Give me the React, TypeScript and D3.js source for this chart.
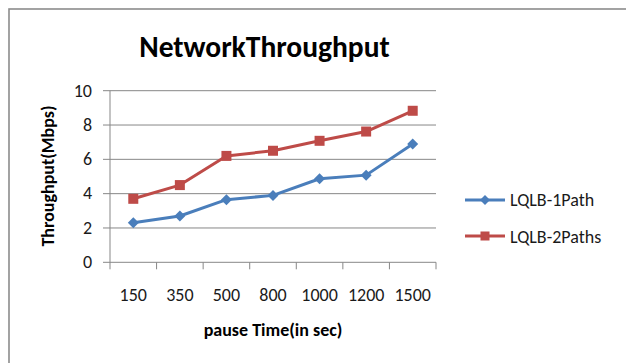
import React from "react";
import * as d3 from "d3";

const categories = ["150", "350", "500", "800", "1000", "1200", "1500"];
const path1 = [2.3, 2.7, 3.65, 3.9, 4.87, 5.08, 6.9];
const path2 = [3.7, 4.5, 6.2, 6.5, 7.08, 7.62, 8.83];
const yTicks = [0, 2, 4, 6, 8, 10];
const seriesNames = ["LQLB-1Path", "LQLB-2Paths"];

const W = 626;
const H = 363;
const plot = { left: 110, right: 436, top: 90.7, bottom: 262.3 };
const font = "Carlito, Calibri, 'Open Sans', 'Noto Sans', sans-serif";

export default function App() {
  const x = d3
    .scaleBand<string>()
    .domain(categories)
    .range([plot.left, plot.right]);
  const y = d3.scaleLinear().domain([0, 10]).range([plot.bottom, plot.top]);
  const cx = (i: number) => (x(categories[i]) as number) + x.bandwidth() / 2;
  const line = d3
    .line<number>()
    .x((_, i) => cx(i))
    .y((d) => y(d));
  const blue = "#4A7EBB";
  const red = "#BE4B48";
  const grid = "#878787";
  const text = "#1a1a1a";
  const diamond = (px: number, py: number, r: number) =>
    `M${px},${py - r}L${px + r},${py}L${px},${py + r}L${px - r},${py}Z`;

  return (
    <svg
      width={W}
      height={H}
      style={{ position: "absolute", left: 0, top: 0, background: "#fff" }}
    >
      {/* chart frame */}
      <rect x={9} y={9} width={W + 10} height={H + 10} fill="#fff" stroke="#8c8c8c" strokeWidth={1.6} />

      <text x={264.5} y={57} textAnchor="middle" fontFamily={font} fontWeight="bold" fontSize={29.5} fill="#000">
        NetworkThroughput
      </text>

      {/* gridlines and y ticks */}
      {yTicks.map((t) => (
        <g key={t}>
          <line x1={plot.left - 7} x2={plot.right} y1={y(t)} y2={y(t)} stroke={grid} strokeWidth={1} />
          <text x={92} y={y(t) + 5.8} textAnchor="end" fontFamily={font} fontSize={18} fill={text}>
            {t}
          </text>
        </g>
      ))}
      <line x1={plot.left} x2={plot.left} y1={plot.top} y2={plot.bottom} stroke={grid} strokeWidth={1} />

      {/* x tick marks */}
      {d3.range(categories.length + 1).map((i) => {
        const px = plot.left + i * x.bandwidth();
        return <line key={i} x1={px} x2={px} y1={plot.bottom} y2={plot.bottom + 7} stroke={grid} strokeWidth={1} />;
      })}
      {categories.map((c, i) => (
        <text key={c} x={cx(i)} y={300.5} textAnchor="middle" fontFamily={font} fontSize={18} fill={text}>
          {c}
        </text>
      ))}

      <text x={273} y={336} textAnchor="middle" fontFamily={font} fontWeight="bold" fontSize={18} fill="#000">
        pause Time(in sec)
      </text>
      <text
        transform={`translate(54,176) rotate(-90)`}
        textAnchor="middle"
        fontFamily={font}
        fontWeight="bold"
        fontSize={18}
        fill="#000"
      >
        Throughput(Mbps)
      </text>

      {/* series */}
      <path d={line(path1) || ""} fill="none" stroke={blue} strokeWidth={3} strokeLinejoin="round" />
      {path1.map((v, i) => (
        <path key={i} d={diamond(cx(i), y(v), 5.5)} fill={blue} />
      ))}
      <path d={line(path2) || ""} fill="none" stroke={red} strokeWidth={3} strokeLinejoin="round" />
      {path2.map((v, i) => (
        <rect key={i} x={cx(i) - 5} y={y(v) - 5} width={10} height={10} fill={red} />
      ))}

      {/* legend */}
      <line x1={465} x2={505} y1={200} y2={200} stroke={blue} strokeWidth={3} />
      <path d={diamond(485, 200, 5)} fill={blue} />
      <text x={510} y={206} fontFamily={font} fontSize={18} fill={text}>
        {seriesNames[0]}
      </text>
      <line x1={465} x2={505} y1={236} y2={236} stroke={red} strokeWidth={3} />
      <rect x={480.5} y={231.5} width={9} height={9} fill={red} />
      <text x={510} y={242.5} fontFamily={font} fontSize={18} fill={text}>
        {seriesNames[1]}
      </text>
    </svg>
  );
}
